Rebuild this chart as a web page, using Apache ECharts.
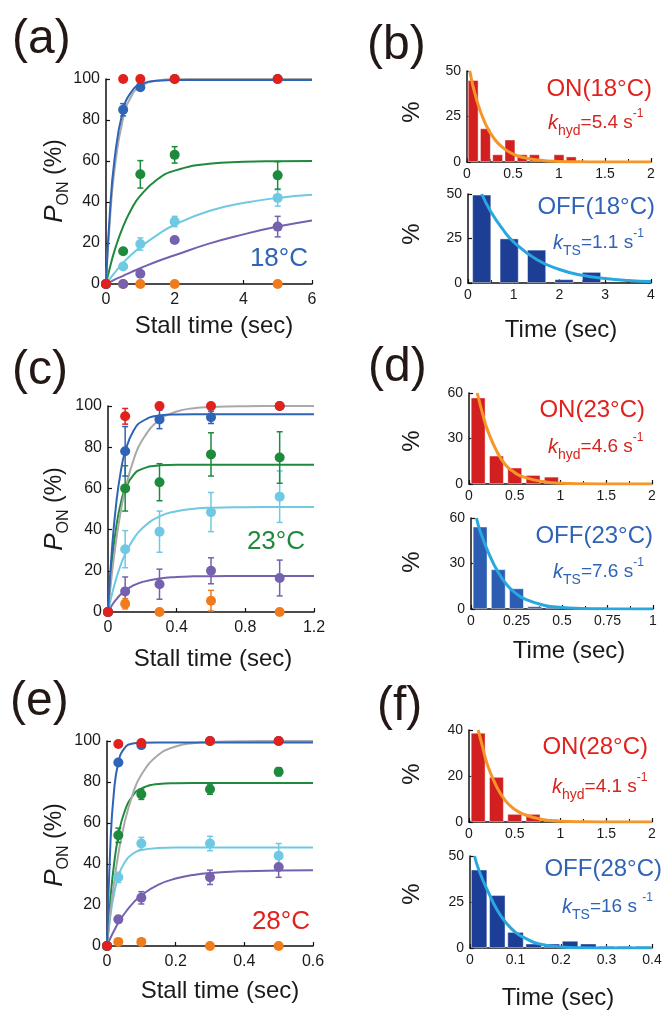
<!DOCTYPE html>
<html>
<head>
<meta charset="utf-8">
<script src="https://cdn.jsdelivr.net/npm/echarts@6/dist/echarts.min.js"></script>
<style>
html,body{margin:0;padding:0;background:#fff;}
#main{width:665px;height:1010px;}
</style>
</head>
<body>
<div id="main"></div>
<script>
// ---- (a) 18°C ----
var tA = [0, 0.5, 1, 2, 5];
var aRed = [0, 100, 100, 100, 100];
var aBlue = [0, 85, 96, 100, 100];
var aBlueErr = [0, 3, 1.5, 0, 0];
var aGreen = [0, 16, 53.5, 63, 53];
var aGreenErr = [0, 0, 6.7, 4, 6.7];
var aCyan = [0, 8.5, 19.5, 30.5, 42];
var aCyanErr = [0, 1, 3, 2.5, 4];
var aPurple = [0, 0, 5, 21.5, 28];
var aPurpleErr = [0, 0, 0, 0, 5];
var aOrange = [0, 0, 0, 0, 0];
// fit curves
var fitTA = [0, 0.1, 0.25, 0.5, 0.75, 1, 1.5, 2, 3, 4, 5, 6];
var aFitGray = [0, 28, 56, 81, 92, 96.3, 99.3, 99.9, 100, 100, 100, 100];
var aFitBlue = [0, 31.3, 61, 85, 94, 97.3, 99.2, 99.5, 99.5, 99.5, 99.5, 99.5];
var aFitGreen = [0, 7.1, 16.3, 28.1, 36.8, 43.1, 51.1, 55.3, 58.7, 59.6, 59.9, 60];
var aFitCyan = [0, 2.2, 5.4, 10.4, 14.5, 18, 24, 28.9, 35.6, 39.5, 42, 43.5];
var aFitPurple = [0, 0.8, 2.1, 4.0, 5.9, 7.7, 11.1, 14.0, 19.7, 24.2, 28.0, 31.0];

// ---- (c) 23°C ----
var tC = [0, 0.1, 0.3, 0.6, 1.0];
var cRed = [0, 95, 100, 100, 100];
var cRedErr = [0, 3.8, 0, 0, 0];
var cBlue = [0, 78, 93.5, 94.5, 100];
var cBlueErr = [0, 12, 4.5, 3, 0];
var cGreen = [0, 60, 63, 76.5, 75];
var cGreenErr = [0, 11, 9, 10.5, 12.5];
var cCyan = [0, 30.5, 39, 48.5, 56];
var cCyanErr = [0, 9, 10, 9.5, 12.5];
var cPurple = [0, 10, 13.5, 20, 16.5];
var cPurpleErr = [0, 7, 7.3, 6.3, 8.7];
var cOrange = [0, 4, 0, 5.5, 0];
var cOrangeErr = [0, 2.5, 0, 5, 0];
var fitTC = [0, 0.025, 0.05, 0.075, 0.1, 0.15, 0.2, 0.3, 0.4, 0.5, 0.6, 0.8, 1.0, 1.2];
var cFitGray = [0, 20.1, 36.2, 49.1, 59.3, 74.1, 83.5, 93.3, 97.3, 98.9, 99.5, 99.9, 100, 100];
var cFitBlue = [0, 32.7, 54.3, 68.5, 77.9, 88.2, 92.6, 95.4, 95.9, 96, 96, 96, 96, 96];
var cFitGreen = [0, 25.9, 42.4, 53, 59.7, 66.7, 69.5, 71.2, 71.5, 71.5, 71.5, 71.5, 71.5, 71.5];
var cFitCyan = [0, 9.2, 16.8, 23, 28.1, 35.6, 40.7, 46.4, 48.9, 50.1, 50.6, 50.9, 51, 51];
var cFitPurple = [0, 3.5, 6.3, 8.6, 10.4, 13, 14.6, 16.3, 17, 17.3, 17.4, 17.5, 17.5, 17.5];

// ---- (e) 28°C ----
var tE = [0, 0.033, 0.1, 0.3, 0.5];
var eRed = [0, 98.5, 99, 100, 100];
var eBlue = [0, 89.5, 98, 100, 100];
var eGreen = [0, 54, 74, 76.5, 85];
var eGreenErr = [0, 3.5, 2.5, 2.5, 2];
var eCyan = [0, 33.5, 50, 50, 44];
var eCyanErr = [0, 2.5, 3, 3.5, 6];
var ePurple = [0, 13, 23.5, 33.5, 38.5];
var ePurpleErr = [0, 1, 3, 3.5, 5];
var eOrange = [0, 2, 2, 0, 0];
var fitTE = [0, 0.01, 0.02, 0.033, 0.05, 0.075, 0.1, 0.15, 0.2, 0.25, 0.3, 0.4, 0.5, 0.6];
var eFitGray = [0, 16.5, 30.2, 44.8, 59.3, 74.1, 83.5, 93.3, 97.3, 98.9, 99.5, 99.9, 100, 100];
var eFitBlue = [0, 50, 74.8, 89.5, 96.3, 98.8, 99.2, 99.3, 99.3, 99.3, 99.3, 99.3, 99.3, 99.3];
var eFitGreen = [0, 22.9, 39.2, 53.6, 65, 73.3, 76.8, 79, 79.4, 79.5, 79.5, 79.5, 79.5, 79.5];
var eFitCyan = [0, 14.8, 25.1, 33.8, 40.4, 45, 46.8, 47.8, 48, 48, 48, 48, 48, 48];
var eFitPurple = [0, 3.9, 7.3, 11.3, 15.6, 20.8, 24.7, 29.9, 32.9, 34.6, 35.6, 36.5, 36.8, 36.9];

// ---- histograms (bin centre, %) ----
var bOnX = [0.067, 0.2, 0.333, 0.467, 0.6, 0.733, 0.867, 1.0, 1.133];
var bOnY = [45, 18.5, 4.2, 12.3, 4.2, 4.2, 1, 4.2, 3];
var bOnFitT = [0.03, 0.1, 0.2, 0.3, 0.4, 0.5, 0.6, 0.8, 1.0, 1.25, 1.5, 2.0];
var bOnFit = [50, 35, 21, 12.5, 7.5, 4.4, 2.6, 0.9, 0.3, 0.1, 0, 0];
var bOffX = [0.3, 0.9, 1.5, 2.1, 2.7];
var bOffY = [49.6, 25, 18.7, 2.1, 6.2];
var bOffFitT = [0.3, 0.5, 0.75, 1, 1.5, 2, 2.5, 3, 3.5, 4];
var bOffFit = [50, 40, 30.5, 23, 13.2, 7.6, 4.3, 2.5, 1.4, 0.8];

var dOnX = [0.1, 0.3, 0.5, 0.7, 0.9];
var dOnY = [57, 18.7, 10.8, 5.9, 4.8];
var dOnFitT = [0.09, 0.15, 0.2, 0.3, 0.4, 0.5, 0.6, 0.8, 1.0, 1.25, 1.5, 2.0];
var dOnFit = [60, 46, 36, 22, 12.5, 7.5, 4.5, 1.6, 0.5, 0.15, 0.05, 0];
var dOffX = [0.05, 0.15, 0.25, 0.35, 0.45];
var dOffY = [54.3, 26.2, 13.6, 1.8, 1.5];
var dOffFitT = [0.03, 0.05, 0.1, 0.15, 0.2, 0.25, 0.3, 0.4, 0.5, 0.6, 0.75, 1.0];
var dOffFit = [60, 51.5, 36, 24, 15.5, 10, 6.3, 2.5, 1.0, 0.4, 0.1, 0];

var fOnX = [0.1, 0.3, 0.5, 0.7, 0.9];
var fOnY = [38.8, 19.6, 3.5, 3.5, 1.3];
var fOnFitT = [0.1, 0.15, 0.2, 0.3, 0.4, 0.5, 0.6, 0.8, 1.0, 1.25, 1.5, 2.0];
var fOnFit = [40, 32.5, 25, 15.5, 9.2, 5.5, 3.3, 1.1, 0.35, 0.1, 0.03, 0];
var fOffX = [0.02, 0.06, 0.1, 0.14, 0.18, 0.22, 0.26, 0.30, 0.34, 0.38];
var fOffY = [42.6, 28.7, 8.7, 2.4, 2.4, 3.9, 2.4, 1.1, 1.1, 1.1];
var fOffFitT = [0.01, 0.02, 0.04, 0.06, 0.08, 0.1, 0.12, 0.15, 0.2, 0.25, 0.3, 0.4];
var fOffFit = [50, 42, 30.5, 20.5, 13.5, 8.5, 5.5, 2.3, 0.6, 0.15, 0.05, 0];

var FONT = 'Liberation Sans, Arial, sans-serif';
var RED = '#e2211c', BLUE = '#2f63b6', GRAY = '#a9a9a9', GREEN = '#1e8a3c',
    CYAN = '#6fc9e2', PURPLE = '#7561ae', ORANGE = '#f07b1c';
var HRED = '#d21f1f', ORLINE = '#f5962a', CYLINE = '#29a8e0';

var myChart = echarts.init(document.getElementById('main'));

function zip(x, y) {
  return x.map(function (t, i) { return [t, y[i]]; });
}

function grid(l, t, w, h) {
  return {left: l, top: t, width: w, height: h, containLabel: false, outerBoundsMode: 'none'};
}

function axis(g, min, max, interval, fs, isX, minor) {
  return {
    type: 'value', gridIndex: g, min: min, max: max, interval: interval,
    axisLine: {onZero: false, lineStyle: {color: '#111', width: 1.5}},
    axisTick: {inside: true, length: 4, lineStyle: {color: '#111', width: 1.2}},
    minorTick: {show: !!minor, splitNumber: 2, length: 3, lineStyle: {color: '#111', width: 1}},
    splitLine: {show: false},
    axisLabel: {fontSize: fs, color: '#1a1a1a', fontFamily: FONT, margin: isX ? (fs > 15 ? 8 : 5) : 6}
  };
}

function curve(g, t, v, color, w) {
  return {type: 'line', xAxisIndex: g, yAxisIndex: g, data: zip(t, v), smooth: true,
    showSymbol: false, symbol: 'none', lineStyle: {color: color, width: w || 2}, z: 1, silent: true};
}

function pts(g, t, v, color) {
  return {type: 'scatter', xAxisIndex: g, yAxisIndex: g, data: zip(t, v), symbolSize: 10,
    clip: false, itemStyle: {color: color, opacity: 1}, z: 4};
}

function errs(g, t, v, e, color) {
  var d = [];
  t.forEach(function (x, i) { if (e[i] > 0) d.push([x, v[i] - e[i], v[i] + e[i]]); });
  return {
    type: 'custom', xAxisIndex: g, yAxisIndex: g, data: d, z: 3,
    encode: {x: 0, y: [1, 2]},
    renderItem: function (params, api) {
      var x = api.value(0);
      var lo = api.coord([x, api.value(1)]);
      var hi = api.coord([x, api.value(2)]);
      var s = {stroke: color, lineWidth: 1.5};
      return {type: 'group', children: [
        {type: 'line', shape: {x1: lo[0], y1: lo[1], x2: hi[0], y2: hi[1]}, style: s},
        {type: 'line', shape: {x1: hi[0] - 3, y1: hi[1], x2: hi[0] + 3, y2: hi[1]}, style: s},
        {type: 'line', shape: {x1: lo[0] - 3, y1: lo[1], x2: lo[0] + 3, y2: lo[1]}, style: s}
      ]};
    }
  };
}

function bars(g, x, y, color, w) {
  return {type: 'bar', xAxisIndex: g, yAxisIndex: g, data: zip(x, y), barWidth: w,
    itemStyle: {color: color, borderColor: 'rgba(255,255,255,0.55)', borderWidth: 0.8}, z: 1};
}

function panelSeries(g, t, d) {
  return [
    curve(g, d.fitT, d.fitPurple, PURPLE), curve(g, d.fitT, d.fitCyan, CYAN),
    curve(g, d.fitT, d.fitGreen, GREEN), curve(g, d.fitT, d.fitGray, GRAY),
    curve(g, d.fitT, d.fitBlue, BLUE),
    errs(g, t, d.purple, d.purpleErr, PURPLE), errs(g, t, d.cyan, d.cyanErr, CYAN),
    errs(g, t, d.green, d.greenErr, GREEN), errs(g, t, d.orange, d.orangeErr, ORANGE),
    errs(g, t, d.blue, d.blueErr, BLUE), errs(g, t, d.red, d.redErr, RED),
    pts(g, t, d.orange, ORANGE), pts(g, t, d.purple, PURPLE), pts(g, t, d.cyan, CYAN),
    pts(g, t, d.green, GREEN), pts(g, t, d.blue, BLUE), pts(g, t, d.red, RED)
  ];
}

var zero = [0, 0, 0, 0, 0];
var series = [].concat(
  panelSeries(0, tA, {fitT: fitTA, fitGray: aFitGray, fitBlue: aFitBlue, fitGreen: aFitGreen,
    fitCyan: aFitCyan, fitPurple: aFitPurple, red: aRed, redErr: zero, blue: aBlue, blueErr: aBlueErr,
    green: aGreen, greenErr: aGreenErr, cyan: aCyan, cyanErr: aCyanErr, purple: aPurple,
    purpleErr: aPurpleErr, orange: aOrange, orangeErr: zero}),
  panelSeries(1, tC, {fitT: fitTC, fitGray: cFitGray, fitBlue: cFitBlue, fitGreen: cFitGreen,
    fitCyan: cFitCyan, fitPurple: cFitPurple, red: cRed, redErr: cRedErr, blue: cBlue, blueErr: cBlueErr,
    green: cGreen, greenErr: cGreenErr, cyan: cCyan, cyanErr: cCyanErr, purple: cPurple,
    purpleErr: cPurpleErr, orange: cOrange, orangeErr: cOrangeErr}),
  panelSeries(2, tE, {fitT: fitTE, fitGray: eFitGray, fitBlue: eFitBlue, fitGreen: eFitGreen,
    fitCyan: eFitCyan, fitPurple: eFitPurple, red: eRed, redErr: zero, blue: eBlue, blueErr: zero,
    green: eGreen, greenErr: eGreenErr, cyan: eCyan, cyanErr: eCyanErr, purple: ePurple,
    purpleErr: ePurpleErr, orange: eOrange, orangeErr: zero}),
  [
    bars(3, bOnX, bOnY, HRED, 10.7), curve(3, bOnFitT, bOnFit, ORLINE, 3),
    bars(4, bOffX, bOffY, '#1c3f95', 19), curve(4, bOffFitT, bOffFit, CYLINE, 3),
    bars(5, dOnX, dOnY, HRED, 14.7), curve(5, dOnFitT, dOnFit, ORLINE, 3),
    bars(6, dOffX, dOffY, '#2c5db2', 14.7), curve(6, dOffFitT, dOffFit, CYLINE, 3),
    bars(7, fOnX, fOnY, HRED, 14.7), curve(7, fOnFitT, fOnFit, ORLINE, 3),
    bars(8, fOffX, fOffY, '#1c3e96', 16.3), curve(8, fOffFitT, fOffFit, CYLINE, 3)
  ]
);
series.forEach(function (s) { if (s.type === 'line') s.z = s.xAxisIndex > 2 ? 2 : 1; });

function txt(x, y, text, fs, color, align, extra) {
  var o = {type: 'text', x: x, y: y, style: {text: text, fontSize: fs, fill: color, fontFamily: FONT,
    align: align || 'center', verticalAlign: 'middle'}};
  if (extra) for (var k in extra) o.style[k] = extra[k];
  return o;
}

function kLabel(x, y, sub, rest, color) {
  return txt(x, y, '{k|k}{s|' + sub + '}{n|' + rest + '}{u|-1}', 19, color, 'left', {
    rich: {
      k: {fontSize: 20, fontStyle: 'italic', fill: color, fontFamily: FONT, lineHeight: 30},
      s: {fontSize: 14, fill: color, fontFamily: FONT, verticalAlign: 'bottom', lineHeight: 14},
      n: {fontSize: 19, fill: color, fontFamily: FONT, lineHeight: 30},
      u: {fontSize: 12, fill: color, fontFamily: FONT, verticalAlign: 'top', lineHeight: 18}
    }
  });
}

function pOn(x, y) {
  var o = txt(x, y, '{p|P}{s|ON}{n| (%)}', 22, '#1a1a1a', 'center', {
    rich: {
      p: {fontSize: 26, fontStyle: 'italic', fill: '#1a1a1a', fontFamily: FONT, lineHeight: 34},
      s: {fontSize: 16, fill: '#1a1a1a', fontFamily: FONT, verticalAlign: 'bottom', lineHeight: 16},
      n: {fontSize: 23, fill: '#1a1a1a', fontFamily: FONT, lineHeight: 34}
    }
  });
  o.rotation = Math.PI / 2;
  return o;
}

function pct(x, y) {
  var o = txt(x, y, '%', 24, '#1a1a1a');
  o.rotation = Math.PI / 2;
  return o;
}

var INK = '#231815';
var graphics = [
  txt(12, 40, '(a)', 48, INK, 'left'), txt(367, 46, '(b)', 48, INK, 'left'),
  txt(12, 371, '(c)', 48, INK, 'left'), txt(368, 368, '(d)', 48, INK, 'left'),
  txt(10, 702, '(e)', 48, INK, 'left'), txt(377, 707, '(f)', 48, INK, 'left'),
  pOn(55, 181), pOn(55, 509), pOn(55, 845),
  txt(214, 326, 'Stall time (sec)', 24, '#1a1a1a'),
  txt(213, 659, 'Stall time (sec)', 24, '#1a1a1a'),
  txt(220, 991, 'Stall time (sec)', 24, '#1a1a1a'),
  txt(561, 330, 'Time (sec)', 24, '#1a1a1a'),
  txt(569, 651, 'Time (sec)', 24, '#1a1a1a'),
  txt(558, 998, 'Time (sec)', 24, '#1a1a1a'),
  pct(412, 112), pct(412, 234), pct(412, 441), pct(412, 562), pct(412, 774), pct(412, 894),
  txt(308, 259, '18°C', 26, BLUE, 'right'),
  txt(305, 542, '23°C', 26, GREEN, 'right'),
  txt(310, 922, '28°C', 26, RED, 'right'),
  txt(652, 89, 'ON(18°C)', 24, RED, 'right'),
  kLabel(548, 123, 'hyd', '=5.4 s', '#d4261e'),
  txt(655, 207, 'OFF(18°C)', 24, BLUE, 'right'),
  kLabel(553, 243, 'TS', '=1.1 s', BLUE),
  txt(645, 410, 'ON(23°C)', 24, RED, 'right'),
  kLabel(548, 447, 'hyd', '=4.6 s', '#d4261e'),
  txt(653, 536, 'OFF(23°C)', 24, BLUE, 'right'),
  kLabel(553, 572, 'TS', '=7.6 s', BLUE),
  txt(648, 747, 'ON(28°C)', 24, RED, 'right'),
  kLabel(552, 787, 'hyd', '=4.1 s', '#d4261e'),
  txt(662, 869, 'OFF(28°C)', 24, BLUE, 'right'),
  kLabel(562, 907, 'TS', '=16 s ', BLUE)
];

var option = {
  backgroundColor: '#fff',
  animation: false,
  grid: [
    grid(106, 79, 206, 205), grid(108, 406, 206, 206), grid(107, 741, 206, 205),
    grid(467, 71, 184, 91), grid(468, 194, 183, 89),
    grid(469, 393, 183, 91), grid(471, 518, 182, 91),
    grid(469, 730, 183, 92), grid(470, 856, 182, 92)
  ],
  xAxis: [
    axis(0, 0, 6, 2, 16, true), axis(1, 0, 1.2, 0.4, 16, true), axis(2, 0, 0.6, 0.2, 16, true),
    axis(3, 0, 2, 0.5, 14, true, true), axis(4, 0, 4, 1, 14, true, true),
    axis(5, 0, 2, 0.5, 14, true, true), axis(6, 0, 1, 0.25, 14, true, true),
    axis(7, 0, 2, 0.5, 14, true, true), axis(8, 0, 0.4, 0.1, 14, true, true)
  ],
  yAxis: [
    axis(0, 0, 100, 20, 16), axis(1, 0, 100, 20, 16), axis(2, 0, 100, 20, 16),
    axis(3, 0, 50, 25, 14), axis(4, 0, 50, 25, 14),
    axis(5, 0, 60, 30, 14), axis(6, 0, 60, 30, 14),
    axis(7, 0, 40, 20, 14), axis(8, 0, 50, 25, 14)
  ],
  series: series,
  graphic: graphics
};

myChart.setOption(option);
</script>
</body>
</html>
